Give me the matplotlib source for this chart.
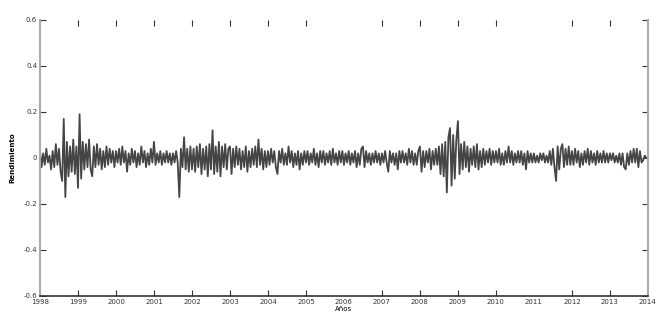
import numpy as np
import matplotlib
matplotlib.use("Agg")
import matplotlib.pyplot as plt

# returns, 24 samples per year
r1998 = [0.03, -0.04, 0.02, -0.03, 0.04, -0.02, 0.01, -0.05, 0.03, -0.04, 0.06, -0.03,
         0.04, -0.06, -0.10, 0.17, -0.17, 0.07, -0.08, 0.05, -0.06, 0.08, -0.07, 0.05]
r1999 = [-0.13, 0.19, -0.09, 0.07, -0.05, 0.06, -0.04, 0.08, -0.05, -0.08, 0.05, -0.04,
         0.06, -0.03, 0.04, -0.05, 0.03, -0.04, 0.05, -0.03, 0.04, -0.02, 0.03, -0.04]
r2000 = [0.03, -0.02, 0.04, -0.03, 0.05, -0.02, 0.03, -0.06, 0.02, -0.03, 0.04, -0.02,
         0.03, -0.04, 0.02, -0.03, 0.05, -0.02, 0.03, -0.04, 0.02, -0.03, 0.04, -0.02]
r2001 = [0.07, -0.03, 0.02, -0.02, 0.03, -0.03, 0.02, -0.02, 0.03, -0.02, 0.02, -0.03,
         0.02, -0.02, 0.03, -0.02, -0.17, 0.04, -0.04, 0.09, -0.05, 0.04, -0.06, 0.05]
r2002 = [-0.05, 0.04, -0.06, 0.05, -0.04, 0.06, -0.07, 0.04, -0.05, 0.05, -0.08, 0.06,
         -0.05, 0.12, -0.07, 0.05, -0.06, 0.07, -0.08, 0.05, -0.04, 0.06, -0.05, 0.04]
r2003 = [0.05, -0.07, 0.04, -0.04, 0.05, -0.03, 0.04, -0.05, 0.03, -0.04, 0.05, -0.06,
         0.03, -0.04, 0.04, -0.03, 0.05, -0.04, 0.08, -0.03, 0.04, -0.05, 0.03, -0.04]
r2004 = [0.03, -0.03, 0.04, -0.02, 0.03, -0.04, -0.07, 0.03, -0.02, 0.04, -0.03, 0.02,
         -0.03, 0.05, -0.02, 0.03, -0.04, 0.02, -0.03, 0.03, -0.05, 0.02, -0.03, 0.03]
r2005 = [-0.02, 0.03, -0.03, 0.02, -0.02, 0.04, -0.03, 0.02, -0.04, 0.03, -0.02, 0.03,
         -0.03, 0.02, -0.02, 0.03, -0.03, 0.04, -0.02, 0.02, -0.03, 0.03, -0.02, 0.03]
r2006 = [-0.03, 0.02, -0.02, 0.03, -0.03, 0.02, -0.02, 0.03, -0.04, 0.02, -0.03, 0.04,
         0.05, -0.04, 0.03, -0.02, 0.02, -0.03, 0.02, -0.02, 0.03, -0.02, 0.02, -0.03]
r2007 = [0.02, -0.02, 0.03, -0.02, -0.06, 0.03, -0.02, 0.02, -0.03, 0.02, -0.05, 0.03,
         -0.02, 0.03, -0.02, 0.02, -0.03, 0.04, -0.02, 0.03, -0.03, 0.02, -0.03, 0.03]
r2008 = [0.05, -0.06, 0.03, -0.04, 0.03, -0.02, 0.04, -0.05, 0.03, -0.03, 0.04, -0.03,
         0.05, -0.07, 0.06, -0.08, 0.07, -0.15, 0.09, 0.13, -0.12, 0.10, -0.09, 0.08]
r2009 = [0.16, -0.07, 0.06, -0.05, 0.07, -0.04, 0.05, -0.06, 0.04, -0.03, 0.05, -0.04,
         0.06, -0.05, 0.03, -0.04, 0.04, -0.03, 0.03, -0.02, 0.04, -0.03, 0.03, -0.02]
r2010 = [0.03, -0.02, 0.04, -0.03, 0.02, -0.03, 0.03, -0.02, 0.05, -0.02, 0.03, -0.03,
         0.02, -0.02, 0.03, -0.02, 0.03, -0.03, 0.02, -0.05, 0.03, -0.02, 0.02, -0.02]
r2011 = [0.02, -0.02, 0.01, -0.02, 0.02, -0.01, 0.02, -0.02, 0.01, -0.02, 0.03, -0.03,
         0.04, -0.04, -0.10, 0.05, -0.05, 0.04, 0.06, -0.04, 0.04, -0.03, 0.05, -0.03]
r2012 = [0.03, -0.03, 0.04, -0.02, 0.03, -0.04, 0.02, -0.03, 0.03, -0.02, 0.04, -0.03,
         0.03, -0.02, 0.02, -0.03, 0.03, -0.02, 0.02, -0.02, 0.03, -0.02, 0.02, -0.02]
r2013 = [0.02, -0.01, 0.02, -0.02, 0.01, -0.02, 0.02, -0.03, 0.02, -0.04, -0.05, 0.02,
         -0.03, 0.03, -0.02, 0.04, -0.02, 0.04, -0.04, 0.03, -0.02, -0.01, 0.01, 0.0]

years = list(range(1998, 2015))
yticks = [-0.6, -0.4, -0.2, 0, 0.2, 0.4, 0.6]
ytick_labels = ["-0.6", "-0.4", "-0.2", "0", "0.2", "0.4", "0.6"]

returns = np.concatenate([r1998, r1999, r2000, r2001, r2002, r2003, r2004, r2005,
                          r2006, r2007, r2008, r2009, r2010, r2011, r2012, r2013])
t = 1998 + np.arange(len(returns)) / 24.0

fig = plt.figure(figsize=(6.7, 3.12), dpi=100)
ax = fig.add_axes([0.0597, 0.0513, 0.9073, 0.885])

ax.plot(t, returns, color="#454545", lw=1.3)

ax.set_xlim(1998, 2014)
ax.set_ylim(-0.6, 0.6)
ax.set_xticks(years)
ax.set_xticklabels([str(y) for y in years])
ax.set_yticks(yticks)
ax.set_yticklabels(ytick_labels)
ax.tick_params(direction="in", top=True, right=True, length=4, width=0.8,
               labelsize=5, pad=2, colors="#333333")

# some year ticks are faint or missing in the scan
faint = [2000, 2005, 2012]
hidden = [1998, 2006, 2011, 2014]
for yr, tk in zip(years, ax.xaxis.get_major_ticks()):
    if yr in hidden:
        tk.tick1line.set_visible(False)
        tk.tick2line.set_visible(False)
    elif yr in faint:
        tk.tick1line.set_color("#bbbbbb")
        tk.tick2line.set_color("#bbbbbb")

ax.spines["top"].set_visible(False)
ax.spines["left"].set_color("#aaaaaa")
ax.spines["left"].set_linewidth(1.5)
ax.spines["right"].set_color("#aaaaaa")
ax.spines["right"].set_linewidth(1.5)
ax.spines["bottom"].set_color("#333333")
ax.spines["bottom"].set_linewidth(1.2)

ax.set_xlabel("Años", fontsize=5, labelpad=1)
ax.set_ylabel("Rendimiento", fontsize=5, fontweight="bold", labelpad=6)

fig.savefig("out.png", dpi=100)
